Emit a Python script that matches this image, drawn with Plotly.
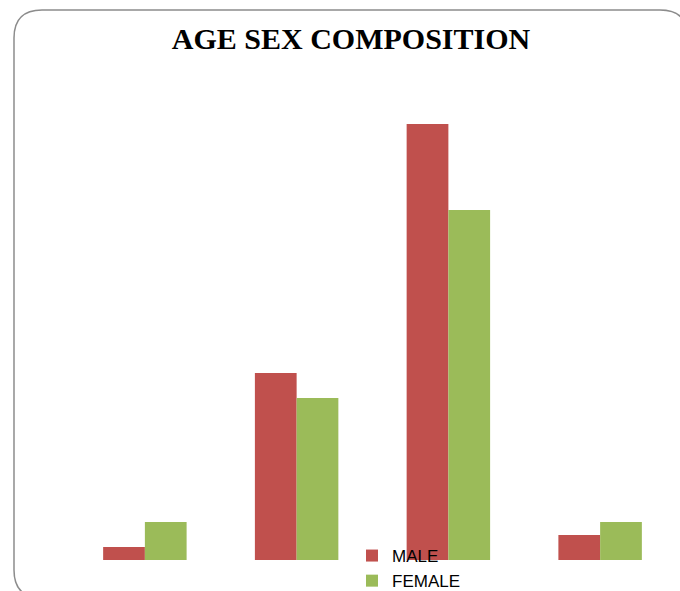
import plotly.graph_objects as go

# Age groups (no tick labels are shown on the axis)
age_groups = ["0-14", "15-34", "35-59", "60+"]
male = [13, 187, 436, 25]
female = [38, 162, 350, 38]

W, H = 680, 591
ML, MR, MT, MB = 69, 4, 60, 0
PW, PH = W - ML - MR, H - MT - MB
BASE_PX = 560          # pixel row of the zero line
TOP_VAL = 500          # value at the top of the plot area
Y_MIN = -(H - MB - BASE_PX) * TOP_VAL / (BASE_PX - MT)


def px_to_paper(x, y):
    return (x - ML) / PW, (H - MB - y) / PH


def rounded_box(x0, y0, x1, y1, r):
    pts = [
        ("M", x0 + r, y0), ("L", x1 - r, y0), ("Q", x1, y0, x1, y0 + r),
        ("L", x1, y1 - r), ("Q", x1, y1, x1 - r, y1), ("L", x0 + r, y1),
        ("Q", x0, y1, x0, y1 - r), ("L", x0, y0 + r), ("Q", x0, y0, x0 + r, y0),
    ]
    out = []
    for p in pts:
        cmd, coords = p[0], p[1:]
        parts = []
        for i in range(0, len(coords), 2):
            u, v = px_to_paper(coords[i], coords[i + 1])
            parts.append(f"{u:.5f},{v:.5f}")
        out.append(cmd + " ".join(parts))
    return " ".join(out) + " Z"


fig = go.Figure()
fig.add_trace(go.Bar(x=age_groups, y=male, name="MALE", marker_color="#C0504D",
                     marker_line_width=0))
fig.add_trace(go.Bar(x=age_groups, y=female, name="FEMALE", marker_color="#9BBB59",
                     marker_line_width=0))

fig.update_layout(
    width=W, height=H,
    margin=dict(l=ML, r=MR, t=MT, b=MB, autoexpand=False),
    paper_bgcolor="white", plot_bgcolor="white",
    barmode="group", bargap=0.45, bargroupgap=0,
    title=dict(
        text="<b>AGE SEX COMPOSITION</b>",
        x=351 / W, xanchor="center",
        y=1 - 38 / H, yanchor="middle",
        font=dict(family="Liberation Serif", size=30, color="black"),
    ),
    xaxis=dict(range=[-0.5, 3.5], showticklabels=False, showgrid=False,
               zeroline=False, showline=False, ticks=""),
    yaxis=dict(range=[Y_MIN, TOP_VAL], showticklabels=False, showgrid=False,
               zeroline=False, showline=False, ticks=""),
    legend=dict(
        x=px_to_paper(352, 0)[0], xanchor="left",
        y=px_to_paper(0, 538)[1], yanchor="top",
        bgcolor="rgba(0,0,0,0)", traceorder="normal",
        font=dict(family="Liberation Sans", size=17, color="black"),
        tracegroupgap=0,
    ),
    shapes=[dict(
        type="path", xref="paper", yref="paper",
        path=rounded_box(14, 10, 688, 598, 28),
        line=dict(color="#8c8c8c", width=1.5), layer="below",
    )],
)

fig.write_html("out.html")
